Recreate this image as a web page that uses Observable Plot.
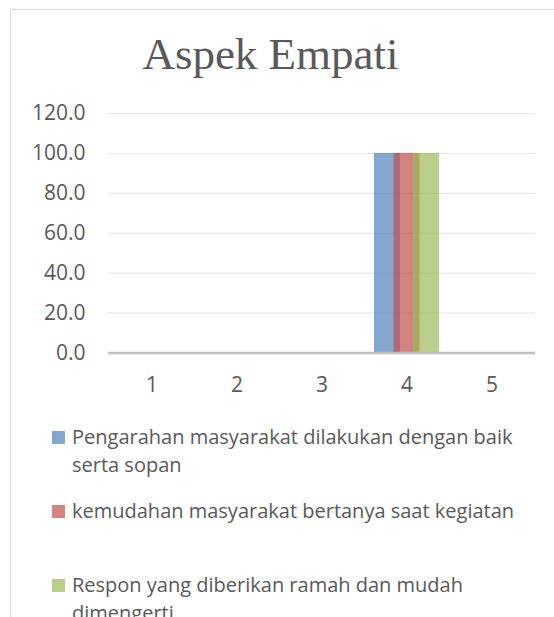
<!DOCTYPE html>
<html><head><meta charset="utf-8">
<script src="https://cdn.jsdelivr.net/npm/d3@7"></script>
<script src="https://cdn.jsdelivr.net/npm/@observablehq/plot@0.6"></script>
<style>
body{margin:0;background:#fff;width:554px;height:617px;overflow:hidden;position:relative;font-family:"Open Sans";color:#595959}
#frame{position:absolute;left:10px;top:9px;width:600px;height:700px;border:1px solid #d9d9d9;box-sizing:border-box}
#title{position:absolute;left:0;top:32px;width:541px;text-align:center;font-family:"Liberation Serif";font-size:45px;line-height:45px;color:#595959;white-space:nowrap;z-index:1}
#chart{position:absolute;left:0;top:85px}
.item{position:absolute;left:52px;width:490px;font-size:20px;line-height:28px;padding-left:20px;box-sizing:border-box}
.sw{position:absolute;left:0;width:13px;height:13px}
</style></head>
<body>
<div id="frame"></div>
<div id="chart"></div>
<div id="title">Aspek Empati</div>
<div id="legend"></div>
<script>
const categories = [1, 2, 3, 4, 5];
const seriesNames = [
  "Pengarahan masyarakat dilakukan dengan baik serta sopan",
  "kemudahan masyarakat bertanya saat kegiatan",
  "Respon yang diberikan ramah dan mudah dimengerti"
];
const pengarahan = [0, 0, 0, 100, 0];
const kemudahan = [0, 0, 0, 100, 0];
const respon = [0, 0, 0, 100, 0];
const seriesColors = ["#4F81BD", "#C0504D", "#9BBB59"];
const yTicks = [0, 20, 40, 60, 80, 100, 120];

const seriesValues = [pengarahan, kemudahan, respon];
const barMarks = seriesValues.map((vals, i) =>
  Plot.barY(categories.map((c, j) => ({cat: c, value: vals[j]})), {
    x: "cat", y: "value", fill: seriesColors[i], fillOpacity: 0.7,
    insetLeft: 29.5, insetRight: 29.5, dx: (i - 1) * 19.5
  })
);

const plot = Plot.plot({
  width: 554, height: 315,
  marginLeft: 108, marginRight: 19, marginTop: 28, marginBottom: 47.5,
  style: {fontFamily: "Open Sans", fontSize: "21px", color: "#595959", background: "transparent"},
  x: {type: "band", domain: categories, padding: 0},
  y: {domain: [0, 120]},
  marks: [
    Plot.ruleY(yTicks.filter(d => d > 0), {stroke: "#e3e3e3", strokeWidth: 1}),
    ...barMarks,
    Plot.ruleY([0], {stroke: "#bfbfbf", strokeWidth: 2.5}),
    Plot.axisX({tickSize: 0, tickPadding: 24, label: null}),
    Plot.axisY({ticks: yTicks, tickFormat: d => d.toFixed(1), tickSize: 0, tickPadding: 23, label: null})
  ]
});
document.getElementById("chart").appendChild(plot);

const legendTops = [423.2, 497.2, 571.2];
const legend = document.getElementById("legend");
seriesNames.forEach((name, i) => {
  const d = document.createElement("div");
  d.className = "item";
  d.style.top = legendTops[i] + "px";
  const sw = document.createElement("span");
  sw.className = "sw";
  sw.style.background = seriesColors[i];
  sw.style.opacity = 0.7;
  sw.style.top = "7.8px";
  d.appendChild(sw);
  d.appendChild(document.createTextNode(name));
  legend.appendChild(d);
});
</script>
</body></html>
